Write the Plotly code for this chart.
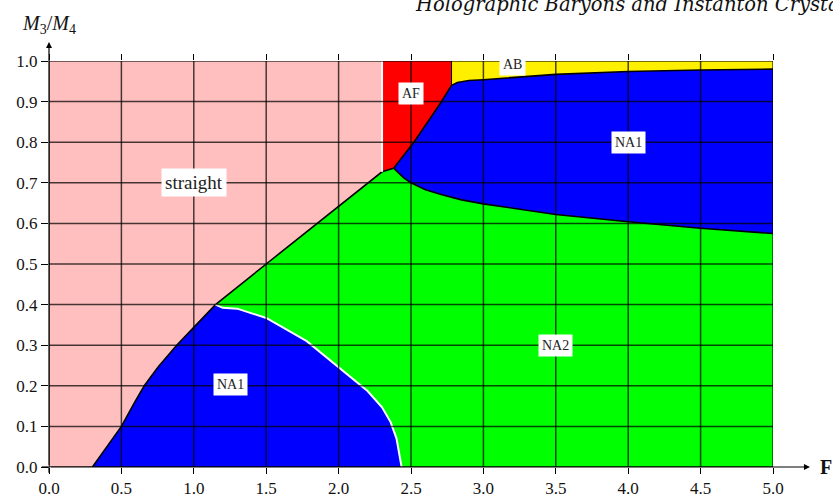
import plotly.graph_objects as go

# ---- data ----
# boundary between "straight" and the NA phases
straight_x = [0.3, 0.5, 0.594, 0.658, 0.755, 0.882, 1.0, 1.15, 1.5, 2.0, 2.3]
straight_y = [0.0, 0.1, 0.161, 0.2, 0.247, 0.3, 0.344, 0.4, 0.5, 0.642, 0.727]
# short segment from the AF corner to the NA1/NA2 junction
junction_x = [2.3, 2.38]
junction_y = [0.727, 0.736]
# lower NA1 / NA2 boundary (white)
na1low_x = [1.15, 1.2, 1.3, 1.5, 1.78, 2.0, 2.2, 2.3, 2.36, 2.40, 2.42, 2.435]
na1low_y = [0.40, 0.392, 0.39, 0.367, 0.31, 0.245, 0.187, 0.147, 0.11, 0.07, 0.035, 0.0]
# AF / NA1 boundary
af_x = [2.38, 2.52, 2.70, 2.78]
af_y = [0.736, 0.80, 0.894, 0.94]
# NA1 / AB boundary
ab_x = [2.78, 2.82, 2.9, 3.0, 3.5, 4.0, 4.5, 5.0]
ab_y = [0.94, 0.947, 0.952, 0.954, 0.967, 0.974, 0.978, 0.98]
# NA1 / NA2 boundary
na2_x = [2.38, 2.45, 2.5, 2.6, 2.72, 2.85, 3.0, 3.5, 4.0, 4.5, 5.0]
na2_y = [0.736, 0.712, 0.70, 0.683, 0.670, 0.658, 0.648, 0.622, 0.604, 0.588, 0.575]

x_min, x_max = 0.0, 5.0
y_min, y_max = 0.0, 1.0
af_left = 2.3
ab_left = 2.78

x_ticks = [0.0, 0.5, 1.0, 1.5, 2.0, 2.5, 3.0, 3.5, 4.0, 4.5, 5.0]
y_ticks = [0.0, 0.1, 0.2, 0.3, 0.4, 0.5, 0.6, 0.7, 0.8, 0.9, 1.0]

labels = ["straight", "NA1", "AF", "AB", "NA1", "NA2"]
label_x = [1.0, 1.25, 2.5, 3.2, 4.0, 3.5]
label_y = [0.70, 0.202, 0.92, 0.992, 0.80, 0.30]
label_size = [19, 14, 14, 14, 14, 14]

PINK = "#FFBFBF"
RED = "#FF0000"
YELLOW = "#FFF000"
BLUE = "#0000FF"
GREEN = "#00FF00"

fig = go.Figure()

def poly(xs, ys, color):
    fig.add_trace(go.Scatter(x=xs, y=ys, fill="toself", fillcolor=color,
                             mode="lines", line=dict(width=0, color=color),
                             hoverinfo="skip", showlegend=False))

# straight (pink)
poly([x_min] + straight_x + [af_left, x_min],
     [y_min] + straight_y + [y_max, y_max], PINK)
# lower NA1 (blue)
i4 = straight_x.index(1.15)
poly(straight_x[:i4 + 1] + na1low_x[1:],
     straight_y[:i4 + 1] + na1low_y[1:], BLUE)
# NA2 (green)
poly(straight_x[i4:] + junction_x[1:] + na2_x[1:] + [x_max] + na1low_x[::-1][:-1],
     straight_y[i4:] + junction_y[1:] + na2_y[1:] + [y_min] + na1low_y[::-1][:-1], GREEN)
# AF (red)
poly(junction_x + af_x[1:] + [ab_left, af_left],
     junction_y + af_y[1:] + [y_max, y_max], RED)
# AB (yellow)
poly(ab_x + [x_max, ab_left], ab_y + [y_max, y_max], YELLOW)
# upper NA1 (blue)
poly(af_x + ab_x[1:] + na2_x[::-1][:-1],
     af_y + ab_y[1:] + na2_y[::-1][:-1], BLUE)

def line(xs, ys, color, width):
    fig.add_trace(go.Scatter(x=xs, y=ys, mode="lines",
                             line=dict(color=color, width=width),
                             hoverinfo="skip", showlegend=False))

line(straight_x + junction_x[1:], straight_y + junction_y[1:], "black", 1.6)
line(af_x, af_y, "black", 1.6)
line(ab_x, ab_y, "black", 1.6)
line(na2_x, na2_y, "black", 1.6)
line([ab_left, ab_left], [af_y[-1], y_max], "black", 1.0)
line(na1low_x, na1low_y, "white", 2.0)
line([af_left, af_left], [straight_y[-1], y_max], "white", 2.0)

# grid drawn above the filled regions
GRID = "rgba(0,0,0,0.72)"
shapes = []
for xv in x_ticks:
    shapes.append(dict(type="line", xref="x", yref="y", x0=xv, x1=xv, y0=y_min, y1=y_max,
                       line=dict(color=GRID, width=1.5), layer="above"))
for yv in y_ticks:
    shapes.append(dict(type="line", xref="x", yref="y", x0=x_min, x1=x_max, y0=yv, y1=yv,
                       line=dict(color=GRID, width=1.5), layer="above"))
# short axis stubs left of / below the origin
shapes.append(dict(type="line", xref="paper", yref="paper", x0=-0.01, x1=0, y0=0, y1=0,
                   line=dict(color="black", width=1.2), layer="above"))
shapes.append(dict(type="line", xref="paper", yref="paper", x0=0, x1=0, y0=-0.014, y1=0,
                   line=dict(color="black", width=1.2), layer="above"))

annotations = []
for t, xv, yv, s in zip(labels, label_x, label_y, label_size):
    annotations.append(dict(x=xv, y=yv, xref="x", yref="y", text=t, showarrow=False,
                            bgcolor="white", borderpad=3,
                            font=dict(family="Liberation Serif", size=s, color="#222")))
# axis arrows (tail inside the axis range, head outside)
annotations.append(dict(x=5.255, y=0, ax=x_min, ay=0, xref="x", yref="y", axref="x", ayref="y",
                        text="", showarrow=True, arrowhead=2, arrowsize=1, arrowwidth=1.2,
                        arrowcolor="black"))
annotations.append(dict(x=0, y=1.047, ax=0, ay=y_min, xref="x", yref="y", axref="x", ayref="y",
                        text="", showarrow=True, arrowhead=2, arrowsize=1, arrowwidth=1.2,
                        arrowcolor="black"))
# axis titles
annotations.append(dict(x=1.073, y=0, xref="paper", yref="paper", text="<b>F</b>",
                        xanchor="center", yanchor="middle", showarrow=False,
                        font=dict(family="Liberation Serif", size=20, color="#111")))
annotations.append(dict(x=0.0, y=1.089, xref="paper", yref="paper",
                        xanchor="center", yanchor="middle",
                        text="<i>M</i><sub>3</sub>/<i>M</i><sub>4</sub>", showarrow=False,
                        font=dict(family="Liberation Serif", size=20, color="#111")))
annotations.append(dict(x=0.503, y=1.106, xref="paper", yref="paper", xanchor="left",
                        yanchor="bottom", showarrow=False,
                        text="<i>Holographic Baryons and Instanton Crystals</i>",
                        font=dict(family="DejaVu Serif", size=19.5, color="#111")))

fig.update_layout(
    template="none",
    width=833, height=495,
    margin=dict(l=49, r=60, t=61, b=28, autoexpand=False),
    paper_bgcolor="white", plot_bgcolor="white",
    shapes=shapes, annotations=annotations,
    font=dict(family="Liberation Serif", size=17, color="#111"),
    xaxis=dict(range=[x_min, x_max], tickvals=x_ticks, ticktext=[f"{v:.1f}" for v in x_ticks],
               showgrid=False, zeroline=False, showline=False, ticks="outside", ticklen=6,
               tickcolor="black", tickwidth=1, mirror="ticks", layer="above traces",
               automargin=False),
    yaxis=dict(range=[y_min, y_max], tickvals=y_ticks, ticktext=[f"{v:.1f}" for v in y_ticks],
               showgrid=False, zeroline=False, showline=False, ticks="outside", ticklen=7,
               tickcolor="black", tickwidth=1, layer="above traces", automargin=False),
)

fig.write_html("out.html", config={"displayModeBar": False},
               post_script="document.body.style.margin='0';")
